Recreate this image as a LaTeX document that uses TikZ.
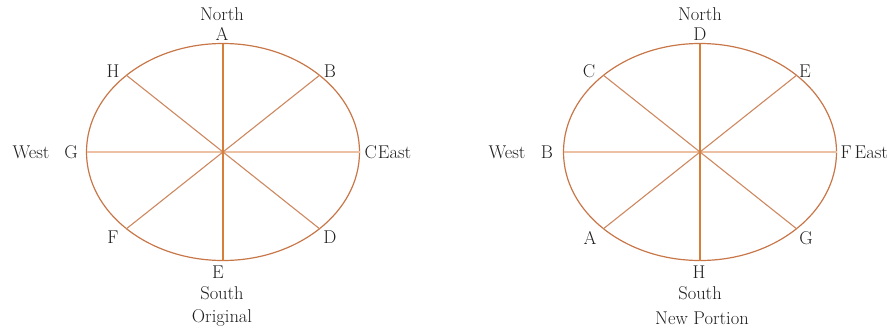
\documentclass[tikz,border=0pt]{standalone}
\usetikzlibrary{positioning}

\definecolor{rimc}{RGB}{200,118,72}
\definecolor{nsc}{RGB}{214,126,58}
\definecolor{ewc}{RGB}{236,192,162}
\definecolor{diagc}{RGB}{206,136,96}

\begin{document}
\begin{tikzpicture}[
    x=1pt, y=-1pt,
    font=\fontsize{18.5}{21}\selectfont,
    lbl/.style={inner sep=0.5pt, text=black!88},
    rim/.style={draw=rimc, line width=1.2pt},
    ns/.style={draw=nsc, line width=1.1pt},
    ew/.style={draw=ewc, line width=1.1pt},
    diag/.style={draw=diagc, line width=1.1pt}
  ]
    \useasboundingbox (0,0) rectangle (894,330);

    % original
    \coordinate (o1) at (223,152);
    \draw[rim] (o1) ellipse [x radius=136.5pt, y radius=108.5pt];
    \coordinate (pA) at (223,43.5);
    \coordinate (pE) at (223,260.5);
    \coordinate (pG) at (86.5,152);
    \coordinate (pC) at (359.5,152);
    \coordinate (pH) at (126.5,75.3);
    \coordinate (pB) at (319.5,75.3);
    \coordinate (pF) at (126.5,228.7);
    \coordinate (pD) at (319.5,228.7);
    \draw[ew] (pG) -- (pC);
    \draw[diag] (pH) -- (pD);
    \draw[diag] (pB) -- (pF);
    \draw[ns] (pA) -- (pE);

    \node[lbl] (north1) at (222,14) {North};
    \node[lbl] (lA) at (222,34) {A};
    \node[lbl] (lH) at (113,71) {H};
    \node[lbl] (lB) at (330,71) {B};
    \node[lbl] (west1) at (31,152) {West};
    \node[lbl] (lG) at (71,152) {G};
    \node[lbl, anchor=west] (lC) at (364,152) {C};
    \node[lbl, anchor=west, inner xsep=0pt] (east1) at (lC.east) {East};
    \node[lbl] (lF) at (113,237) {F};
    \node[lbl] (lD) at (330,237) {D};
    \node[lbl] (lE) at (218,272) {E};
    \node[lbl] (south1) at (222,293) {South};
    \node[lbl] (cap1) at (222,318) {Original};

    % new portion
    \coordinate (o2) at (700,152);
    \draw[rim] (o2) ellipse [x radius=136.5pt, y radius=108.5pt];
    \coordinate (qD) at (700,43.5);
    \coordinate (qH) at (700,260.5);
    \coordinate (qB) at (563.5,152);
    \coordinate (qF) at (836.5,152);
    \coordinate (qC) at (603.5,75.3);
    \coordinate (qE) at (796.5,75.3);
    \coordinate (qA) at (603.5,228.7);
    \coordinate (qG) at (796.5,228.7);
    \draw[ew] (qB) -- (qF);
    \draw[diag] (qC) -- (qG);
    \draw[diag] (qE) -- (qA);
    \draw[ns] (qD) -- (qH);

    \node[lbl] (north2) at (700,14) {North};
    \node[lbl] (mD) at (700,34) {D};
    \node[lbl] (mC) at (589,71) {C};
    \node[lbl] (mE) at (805,71) {E};
    \node[lbl] (west2) at (507,152) {West};
    \node[lbl] (mB) at (547,152) {B};
    \node[lbl, anchor=west] (mF) at (840,152) {F};
    \node[lbl, anchor=west, inner xsep=0pt] (east2) at ([xshift=2pt]mF.east) {East};
    \node[lbl] (mA) at (590,238) {A};
    \node[lbl] (mG) at (806,238) {G};
    \node[lbl] (mH) at (699,272) {H};
    \node[lbl] (south2) at (700,293) {South};
    \node[lbl] (cap2) at (702,318) {New Portion};
  \end{tikzpicture}
\end{document}
